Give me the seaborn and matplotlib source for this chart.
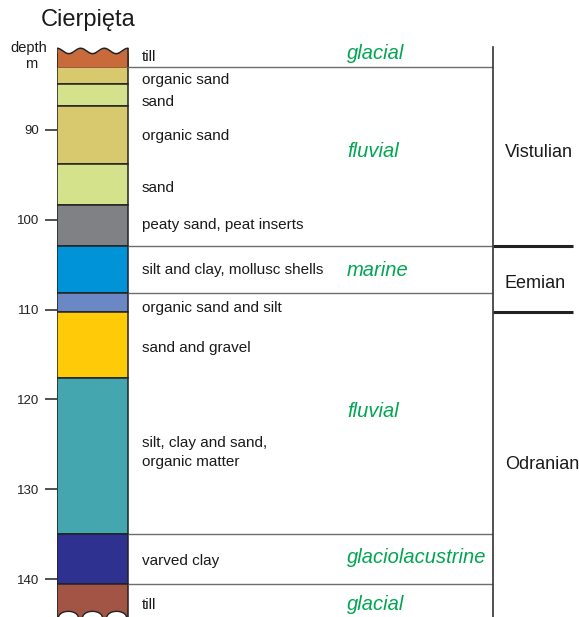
## Part 0: Initialization
import numpy as np
import seaborn as sns
import matplotlib.pyplot as plt

sns.set_style("white")
plt.rcParams["font.family"] = ["Liberation Sans", "DejaVu Sans"]

## Part 1: Data
layer_labels = [
    "till", "organic sand", "sand", "organic sand", "sand",
    "peaty sand, peat inserts", "silt and clay, mollusc shells",
    "organic sand and silt", "sand and gravel",
    "silt, clay and sand,\norganic matter", "varved clay", "till",
]
layer_top = [81.5, 83.0, 84.9, 87.3, 93.75, 98.4, 102.9, 108.2, 110.3, 117.6, 135.0, 140.5]
layer_bottom = [83.0, 84.9, 87.3, 93.75, 98.4, 102.9, 108.2, 110.3, 117.6, 135.0, 140.5, 144.3]
layer_colors = [
    "#C96A3B", "#D8C86E", "#D4E28C", "#D8C86E", "#D4E28C", "#808184",
    "#0093D8", "#6C88C4", "#FFCB08", "#44A6AE", "#2E3190", "#A25545",
]
label_depth = [81.9, 84.45, 86.9, 90.7, 96.45, 100.6, 105.6, 109.8, 114.3, 125.9, 138.0, 142.9]

env_labels = ["glacial", "fluvial", "marine", "fluvial", "glaciolacustrine", "glacial"]
env_depth = [81.45, 92.35, 105.7, 121.3, 137.55, 142.8]
env_breaks = [83.0, 102.9, 108.2, 135.0, 140.5]

stage_labels = ["Vistulian", "Eemian", "Odranian"]
stage_depth = [92.55, 107.15, 127.2]
stage_breaks = [102.9, 110.3]

depth_ticks = [90, 100, 110, 120, 130, 140]

## Part 2: Plot
fig = plt.figure(figsize=(5.79, 6.17), dpi=100)
ax = fig.add_axes([57 / 579, 0, 436 / 579, 570 / 617])
col_w = 71 / 436

ax.bar(
    0, np.subtract(layer_bottom, layer_top), bottom=layer_top, width=col_w,
    align="edge", color=layer_colors, edgecolor="#222222", linewidth=1.1,
)

# wavy top of the upper till
xs = np.linspace(0, col_w, 200)
wave_top = 81.2 - 0.3 * np.cos(6 * np.pi * xs / col_w)
ax.fill_between(xs, wave_top, 83.0, color=layer_colors[0], linewidth=0)
ax.plot(xs, wave_top, color="#222222", lw=1.1)
ax.vlines([0, col_w], [wave_top[0], wave_top[-1]], 83.0, color="#222222", lw=1.1)

# arches at the base of the lower till
centers = np.array([0.16, 0.5, 0.84]) * col_w
r = 0.14 * col_w
arch = np.zeros_like(xs)
for c in centers:
    arch = np.maximum(arch, np.sqrt(np.clip(1 - ((xs - c) / r) ** 2, 0, None)))
ax.fill_between(xs, 144.3 - 0.7 * arch, 144.4, where=arch > 0, color="white", linewidth=0)
ax.plot(xs, 144.3 - 0.7 * arch, color="#222222", lw=1.0)

ax.hlines(env_breaks, col_w, 1, color="#6d6d6d", lw=1)
ax.hlines(stage_breaks, 1, 1.183, color="#222222", lw=2.2, clip_on=False)

for txt, d in zip(layer_labels, label_depth):
    ax.text(0.195, d, txt, fontsize=11, va="center", ha="left", color="#1a1a1a",
            linespacing=1.4)
for txt, d in zip(env_labels, env_depth):
    ax.text(0.665, d, txt, fontsize=14.5, va="center", ha="left", color="#00A651",
            style="italic")
for txt, d in zip(stage_labels, stage_depth):
    ax.text(1.027, d, txt, fontsize=13, va="center", ha="left", color="#1a1a1a",
            clip_on=False)

ax.set_xlim(0, 1)
ax.set_ylim(144.23, 80.76)
ax.set_xticks([])
ax.set_yticks(depth_ticks)
ax.tick_params(axis="y", left=True, length=8.6, width=1.1, pad=4, labelsize=9.5,
               color="#222222", labelcolor="#222222")
for s in ["top", "bottom", "left"]:
    ax.spines[s].set_visible(False)
ax.spines["right"].set_color("#333333")
ax.spines["right"].set_linewidth(1.2)

fig.text(88 / 579, 1 - 20 / 617, "Cierpięta", fontsize=17, ha="center", va="center",
         color="#1a1a1a")
fig.text(29 / 579, 1 - 48 / 617, "depth", fontsize=10.5, ha="center", va="center",
         color="#1a1a1a")
fig.text(31 / 579, 1 - 64 / 617, "m", fontsize=10.5, ha="center", va="center",
         color="#1a1a1a")

plt.savefig("out.png", dpi=100)
